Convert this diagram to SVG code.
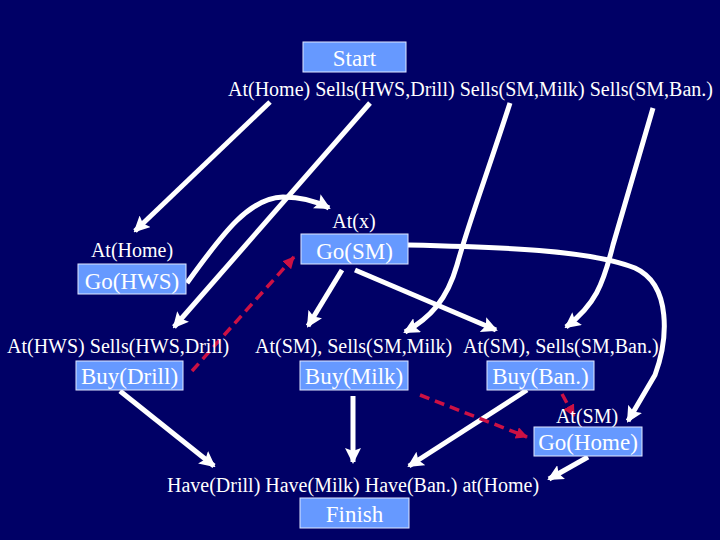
<svg xmlns="http://www.w3.org/2000/svg" width="720" height="540" viewBox="0 0 720 540">
<style>
.bg{fill:#000066}
.box{fill:#6699FF;stroke:#E0E8FF;stroke-width:1}
.bt{font-family:"Liberation Serif","Times New Roman",serif;font-size:23px;fill:#FFFFFF;text-anchor:middle}
.lb{font-family:"Liberation Serif","Times New Roman",serif;font-size:20px;fill:#FFFFFF}
.w{fill:none;stroke:#FFFFFF;stroke-width:5}
.r{fill:none;stroke:#CC1144;stroke-width:3.5;stroke-dasharray:10 6}
</style>
<defs>
<marker id="aw" viewBox="0 0 16 16" refX="14" refY="8" markerWidth="16" markerHeight="16" markerUnits="userSpaceOnUse" orient="auto">
<path d="M0,0 L16,8 L0,16 L3,8 z" fill="#FFFFFF"/>
</marker>
<marker id="ar" viewBox="0 0 12 12" refX="11" refY="6" markerWidth="12" markerHeight="12" markerUnits="userSpaceOnUse" orient="auto">
<path d="M0,0 L12,6 L0,12 z" fill="#CC1144"/>
</marker>
</defs>
<rect class="bg" x="0" y="0" width="720" height="540"/>

<g id="connectors">
<line class="w" x1="270" y1="102" x2="135" y2="231" marker-end="url(#aw)"/>
<line class="w" x1="370" y1="103" x2="174" y2="327" marker-end="url(#aw)"/>
<path class="w" d="M510,103 C485,180 468,225 457,265 C447,300 430,318 405,332" marker-end="url(#aw)"/>
<path class="w" d="M653,108 L613,245 C603,285 595,305 566,327" marker-end="url(#aw)"/>
<path class="w" d="M408,245 C500,247 590,250 635,268 C672,285 668,340 655,375 L628,421" marker-end="url(#aw)"/>
<path class="w" d="M187,283 C225,230 250,198 283,197 C305,197 318,202 329,208" marker-end="url(#aw)"/>
<line class="w" x1="342" y1="270" x2="308" y2="326" marker-end="url(#aw)"/>
<line class="w" x1="355" y1="270" x2="496" y2="330" marker-end="url(#aw)"/>
<line class="w" x1="120" y1="391" x2="214" y2="466" marker-end="url(#aw)"/>
<line class="w" x1="353" y1="396" x2="353" y2="462" marker-end="url(#aw)"/>
<line class="w" x1="527" y1="390" x2="409" y2="466" marker-end="url(#aw)"/>
<line class="w" x1="588" y1="457" x2="549" y2="479" marker-end="url(#aw)"/>
<line class="r" x1="192" y1="371" x2="294" y2="257" marker-end="url(#ar)"/>
<line class="r" x1="420" y1="395" x2="527" y2="437" marker-end="url(#ar)"/>
<line class="r" x1="562" y1="394" x2="574" y2="416" marker-end="url(#ar)"/>
</g>

<g id="start">
<rect class="box" x="303" y="42" width="103" height="30"/>
<text class="bt" x="354.5" y="66">Start</text>
<text class="lb" x="228" y="96">At(Home) Sells(HWS,Drill) Sells(SM,Milk) Sells(SM,Ban.)</text>
</g>

<g id="go-hws">
<text class="lb" x="132" y="257" text-anchor="middle">At(Home)</text>
<rect class="box" x="78" y="264" width="108" height="30"/>
<text class="bt" x="132" y="289">Go(HWS)</text>
</g>

<g id="go-sm">
<text class="lb" x="354" y="228" text-anchor="middle">At(x)</text>
<rect class="box" x="301" y="234" width="107" height="30"/>
<text class="bt" x="354.5" y="259">Go(SM)</text>
</g>

<g id="buy-drill">
<text class="lb" x="7" y="353">At(HWS) Sells(HWS,Drill)</text>
<rect class="box" x="76" y="361" width="107" height="29"/>
<text class="bt" x="129.5" y="384">Buy(Drill)</text>
</g>

<g id="buy-milk">
<text class="lb" x="255" y="353">At(SM), Sells(SM,Milk)</text>
<rect class="box" x="300" y="361" width="108" height="29"/>
<text class="bt" x="354" y="384">Buy(Milk)</text>
</g>

<g id="buy-ban">
<text class="lb" x="463" y="353">At(SM), Sells(SM,Ban.)</text>
<rect class="box" x="487" y="361" width="107" height="29"/>
<text class="bt" x="540.5" y="384">Buy(Ban.)</text>
</g>

<g id="go-home">
<text class="lb" x="587" y="423" text-anchor="middle">At(SM)</text>
<rect class="box" x="534" y="427" width="108" height="29"/>
<text class="bt" x="588" y="450">Go(Home)</text>
</g>

<g id="finish">
<text class="lb" x="167" y="492">Have(Drill) Have(Milk) Have(Ban.) at(Home)</text>
<rect class="box" x="300" y="498" width="109" height="30"/>
<text class="bt" x="354.5" y="522">Finish</text>
</g>
</svg>
